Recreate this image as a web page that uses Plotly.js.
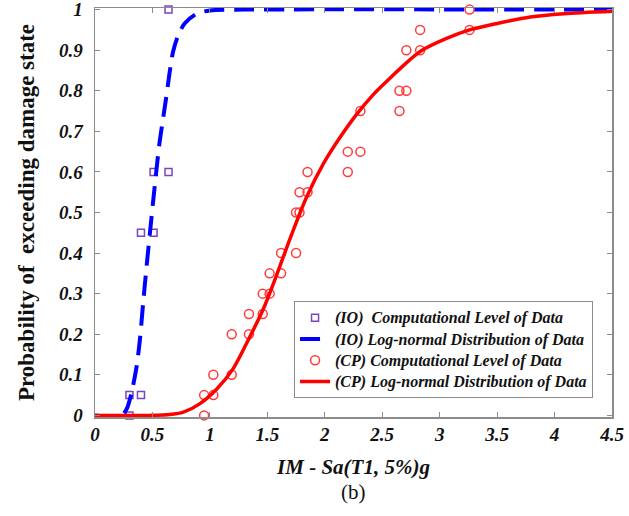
<!DOCTYPE html>
<html>
<head>
<meta charset="utf-8">
<script src="https://cdn.plot.ly/plotly-3.0.1.min.js"></script>
<style>html,body{margin:0;padding:0;background:#fff;}#chart{width:629px;height:516px;}</style>
</head>
<body>
<div id="chart"></div>
<script>
// IO computational data (squares)
var ioDataX = [0.30, 0.30, 0.40, 0.40, 0.51, 0.51, 0.64, 0.64];
var ioDataY = [0.00, 0.05, 0.05, 0.45, 0.45, 0.60, 0.60, 1.00];
// IO log-normal curve
var ioCurveX = [0, 0.232, 0.276, 0.319, 0.363, 0.392, 0.42, 0.45, 0.48, 0.507, 0.537, 0.56, 0.589, 0.618, 0.647, 0.68, 0.725, 0.78, 0.885, 1.0, 1.3, 4.5];
var ioCurveY = [0, 0, 0.016, 0.057, 0.122, 0.19, 0.28, 0.37, 0.455, 0.53, 0.611, 0.668, 0.725, 0.78, 0.84, 0.897, 0.937, 0.966, 0.99, 0.998, 1.0, 1.0];
// CP computational data (circles)
var cpDataX = [0.95, 0.95, 1.03, 1.03, 1.19, 1.19, 1.34, 1.34, 1.46, 1.46, 1.52, 1.52, 1.62, 1.62, 1.75, 1.75, 1.78, 1.78, 1.85, 1.85, 2.20, 2.20, 2.31, 2.31, 2.65, 2.65, 2.71, 2.71, 2.83, 2.83, 3.26, 3.26];
var cpDataY = [0.00, 0.05, 0.05, 0.10, 0.10, 0.20, 0.20, 0.25, 0.25, 0.30, 0.30, 0.35, 0.35, 0.40, 0.40, 0.50, 0.50, 0.55, 0.55, 0.60, 0.60, 0.65, 0.65, 0.75, 0.75, 0.80, 0.80, 0.90, 0.90, 0.95, 0.95, 1.00];
// CP log-normal curve
var cpCurveX = [0, 0.3, 0.48, 0.65, 0.77, 0.914, 1.06, 1.2, 1.35, 1.465, 1.58, 1.697, 1.842, 1.987, 2.132, 2.277, 2.42, 2.567, 2.74, 2.83, 3.06, 3.26, 3.5, 3.79, 4.08, 4.5];
var cpCurveY = [0, 0, 0, 0.002, 0.008, 0.029, 0.065, 0.114, 0.195, 0.262, 0.345, 0.435, 0.538, 0.62, 0.685, 0.742, 0.79, 0.831, 0.876, 0.897, 0.929, 0.95, 0.966, 0.982, 0.99, 0.996];

var legendNames = [
  '(IO)\u00a0\u00a0Computational Level of Data',
  '(IO)\u00a0Log-normal Distribution of Data',
  '(CP)\u00a0Computational Level of Data',
  '(CP)\u00a0Log-normal Distribution of Data'
];
var xTickVals = [0, 0.5, 1, 1.5, 2, 2.5, 3, 3.5, 4, 4.5];
var xTickText = ['0', '0.5', '1', '1.5', '2', '2.5', '3', '3.5', '4', '4.5'];
var yTickVals = [0, 0.1, 0.2, 0.3, 0.4, 0.5, 0.6, 0.7, 0.8, 0.9, 1];
var yTickText = ['0', '0.1', '0.2', '0.3', '0.4', '0.5', '0.6', '0.7', '0.8', '0.9', '1'];

var serif = '"Liberation Serif", "Times New Roman", serif';
function big(s) { return '<span style="font-size:16px">' + s + '</span>'; }

var traces = [
  {x: ioDataX, y: ioDataY, mode: 'markers', type: 'scatter', name: big(legendNames[0]), cliponaxis: false,
   marker: {symbol: 'square-open', size: 7, color: '#7a45c0', line: {width: 1.5, color: '#7a45c0'}}},
  {x: ioCurveX, y: ioCurveY, mode: 'lines', type: 'scatter', name: big(legendNames[1]),
   line: {color: '#0000ff', width: 4, dash: '20px,10px', shape: 'spline', smoothing: 0.8}},
  {x: cpDataX, y: cpDataY, mode: 'markers', type: 'scatter', name: big(legendNames[2]), cliponaxis: false,
   marker: {symbol: 'circle-open', size: 9, color: '#ff3b3b', line: {width: 1.5, color: '#ff3b3b'}}},
  {x: cpCurveX, y: cpCurveY, mode: 'lines', type: 'scatter', name: big(legendNames[3]),
   line: {color: '#ff0000', width: 3.5, shape: 'spline', smoothing: 0.8}}
];

var axisCommon = {
  showgrid: false, zeroline: false, showline: true, linecolor: '#8c8c8c', linewidth: 1.5,
  mirror: 'ticks', ticks: 'inside', ticklen: 5, tickwidth: 1, tickcolor: '#8c8c8c',
  tickfont: {family: serif, size: 19, color: '#111', weight: 'bold', style: 'italic'},
  tickmode: 'array', automargin: false, ticklabeloverflow: 'allow'
};

var layout = {
  width: 629, height: 516,
  margin: {l: 95, r: 17, t: 8, b: 99},
  paper_bgcolor: '#fff', plot_bgcolor: '#fff',
  showlegend: true,
  xaxis: Object.assign({}, axisCommon, {
    range: [0, 4.5], tickvals: xTickVals, ticktext: xTickText, ticklabelstandoff: 0,
    title: {text: 'IM - Sa(T1, 5%)g', standoff: 15,
            font: {family: serif, size: 21, color: '#111', weight: 'bold', style: 'italic'}}
  }),
  yaxis: Object.assign({}, axisCommon, {
    range: [-0.004, 1.004], tickvals: yTickVals, ticktext: yTickText, ticklabelstandoff: 7,
    title: {text: 'Probability of\u00a0\u00a0exceeding damage state', standoff: 18,
            font: {family: serif, size: 23, color: '#111', weight: 'bold'}}
  }),
  legend: {
    x: 0.385, y: 0.283, xanchor: 'left', yanchor: 'top',
    bgcolor: '#fff', bordercolor: '#8c8c8c', borderwidth: 1,
    font: {family: serif, size: 14, color: '#111', weight: 'bold', style: 'italic'},
    tracegroupgap: 0, itemwidth: 30
  },
  annotations: [
    {text: '(b)', xref: 'paper', yref: 'paper', x: 0.5, y: -0.183, xanchor: 'center', yanchor: 'middle',
     showarrow: false, font: {family: serif, size: 21, color: '#111'}}
  ]
};

Plotly.newPlot('chart', traces, layout, {staticPlot: true, displayModeBar: false});
</script>
</body>
</html>
